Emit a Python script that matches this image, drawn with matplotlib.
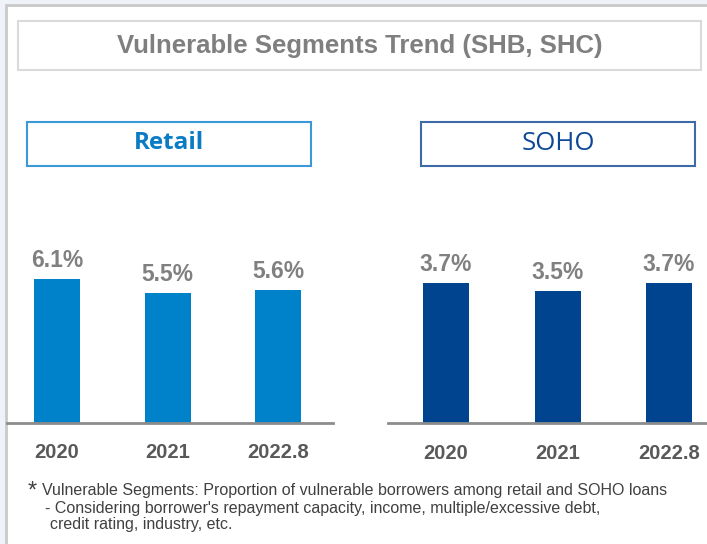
import matplotlib.pyplot as plt
from matplotlib.patches import Rectangle
from matplotlib import font_manager
import numpy as np

W, H = 707, 544

years = ['2020', '2021', '2022.8']
retail = [6.1, 5.5, 5.6]
soho = [3.7, 3.5, 3.7]
retail_labels = ['6.1%', '5.5%', '5.6%']
soho_labels = ['3.7%', '3.5%', '3.7%']

title = 'Vulnerable Segments Trend (SHB, SHC)'
note1 = 'Vulnerable Segments: Proportion of vulnerable borrowers among retail and SOHO loans'
note2 = "- Considering borrower's repayment capacity, income, multiple/excessive debt,"
note3 = 'credit rating, industry, etc.'

names = {f.name for f in font_manager.fontManager.ttflist}
arial = ['Liberation Sans', 'DejaVu Sans']
has_narrow = 'Liberation Sans Narrow' in names
narrow = ['Liberation Sans Narrow', 'DejaVu Sans'] if has_narrow else arial
note_size = 12 if has_narrow else 11.5
year_size = 15 if has_narrow else 14.5


def fx(x):
    return x / W


def fy(y):
    return 1 - y / H


def box(fig, x0, y0, x1, y1, ec, lw, fc='white'):
    r = Rectangle((fx(x0), fy(y1)), fx(x1) - fx(x0), fy(y0) - fy(y1),
                  transform=fig.transFigure, facecolor=fc, edgecolor=ec,
                  linewidth=lw, zorder=-5)
    fig.patches.append(r)


fig = plt.figure(figsize=(W / 100, H / 100), dpi=100, facecolor='#eff3f9')

# outer panel + title box
box(fig, 6, 5, 712, 550, '#c9c9c9', 2.0)
box(fig, 18, 21, 701, 70, '#dadada', 1.5)
fig.text(fx(360), fy(46), title, ha='center', va='center', fontsize=18.5,
         fontweight='bold', color='#7f7f7f', family=arial)

# segment header boxes
box(fig, 27, 122, 311, 166, '#3a9ad9', 1.5)
fig.text(fx(169), fy(143), 'Retail', ha='center', va='center', fontsize=17.5,
         fontweight='bold', color='#0a7cc5', family=['Open Sans', 'DejaVu Sans'])
box(fig, 421, 122, 695, 166, '#3d6ba8', 1.5)
fig.text(fx(558), fy(143), 'SOHO', ha='center', va='center', fontsize=18.5,
         color='#0d4896', family=['Open Sans', 'DejaVu Sans'])


def panel(x0, x1, base, centers, vals, labels, color, scale):
    top = 220
    ax = fig.add_axes([fx(x0), fy(base), fx(x1) - fx(x0), fy(top) - fy(base)])
    pos = np.arange(len(vals))
    step = (centers[-1] - centers[0]) / (len(vals) - 1)
    ax.set_xlim(-(centers[0] - x0) / step, 2 + (x1 - centers[-1]) / step)
    ax.set_ylim(0, (base - top) / scale)
    ax.bar(pos, vals, width=46 / step, color=color, zorder=2)
    for p, v, lab in zip(pos, vals, labels):
        ax.annotate(lab, (p, v), xytext=(0, 5), textcoords='offset points',
                    ha='center', va='bottom', fontsize=16.5, fontweight='bold',
                    color='#808080', family=arial)
    ax.set_facecolor('none')
    for s in ['top', 'right', 'left']:
        ax.spines[s].set_visible(False)
    ax.spines['bottom'].set_color('#8c8c8c')
    ax.spines['bottom'].set_linewidth(2)
    ax.set_yticks([])
    ax.set_xticks(pos)
    ax.set_xticklabels(years, fontsize=year_size, fontweight='bold',
                       color='#595959', family=narrow)
    ax.tick_params(axis='x', length=0, pad=15)
    return ax


panel(7, 333, 422.5, [57, 166, 278], retail, retail_labels, '#0082ca', 23.6)
panel(388, 707, 423, [446, 556, 669], soho, soho_labels, '#00438f', 37.8)

# footnote
fig.text(fx(28), fy(492), '*', ha='left', va='center', fontsize=17,
         color='#404040', family=arial)
fig.text(fx(42), fy(491), note1, ha='left', va='center', fontsize=note_size,
         color='#404040', family=narrow)
fig.text(fx(45), fy(508), note2, ha='left', va='center', fontsize=note_size,
         color='#404040', family=narrow)
fig.text(fx(50), fy(525), note3, ha='left', va='center', fontsize=note_size,
         color='#404040', family=narrow)

fig.savefig('out.png', dpi=100, facecolor=fig.get_facecolor())
